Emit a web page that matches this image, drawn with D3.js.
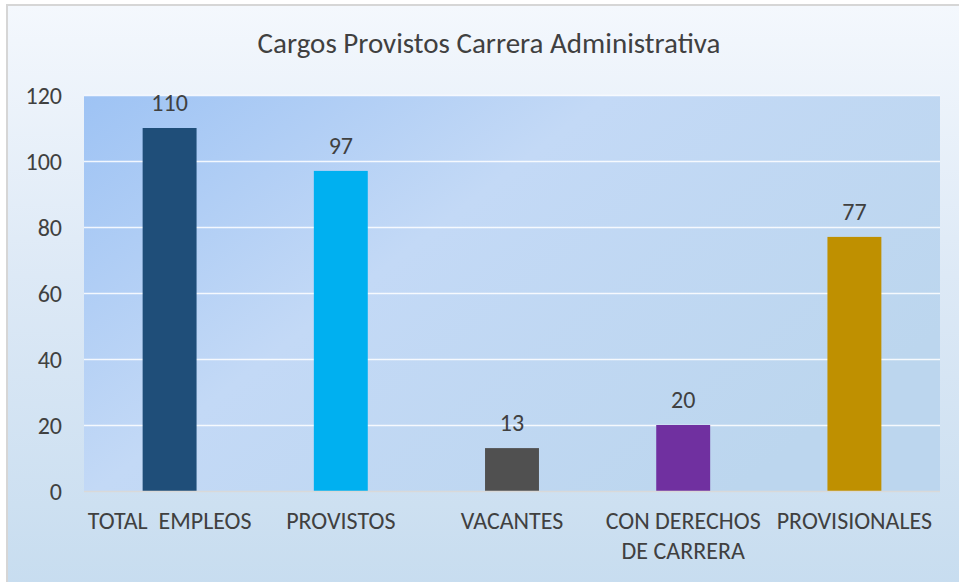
<!DOCTYPE html>
<html><head><meta charset="utf-8">
<script src="https://cdn.jsdelivr.net/npm/d3@7"></script>
<style>body{margin:0;background:#fff}svg{display:block}</style>
</head><body><svg id="c" width="959" height="582"></svg>
<script>
const categories = ["TOTAL  EMPLEOS", "PROVISTOS", "VACANTES", "CON DERECHOS\nDE CARRERA", "PROVISIONALES"];
const values = [110, 97, 13, 20, 77];
const colors = ["#1F4E79", "#00B0F0", "#505050", "#7030A0", "#BF9000"];
const yTicks = [0, 20, 40, 60, 80, 100, 120];
const title = "Cargos Provistos Carrera Administrativa";

const svg = d3.select("#c");
const defs = svg.append("defs");
const og = defs.append("linearGradient").attr("id","outer").attr("x1",0).attr("y1",0).attr("x2",0).attr("y2",1);
og.append("stop").attr("offset","0%").attr("stop-color","#f4f8fd");
og.append("stop").attr("offset","45%").attr("stop-color","#dde9f6");
og.append("stop").attr("offset","100%").attr("stop-color","#c6dcef");
const pg = defs.append("linearGradient").attr("id","plot").attr("x1",0).attr("y1",0).attr("x2",1).attr("y2",0.6);
pg.append("stop").attr("offset","0%").attr("stop-color","#9ec3f4");
pg.append("stop").attr("offset","45%").attr("stop-color","#c3d9f6");
pg.append("stop").attr("offset","100%").attr("stop-color","#bcd6ee");

svg.append("rect").attr("x",7).attr("y",5).attr("width",980).attr("height",600)
  .attr("fill","url(#outer)").attr("stroke","#d6d6d6").attr("stroke-width",2);

const m = {left:84, right:940, top:95, bottom:491};
const x = d3.scaleBand().domain(categories).range([m.left, m.right]).padding(0);
const y = d3.scaleLinear().domain([0,120]).range([m.bottom, m.top]);

svg.append("rect").attr("x",m.left).attr("y",m.top).attr("width",m.right-m.left).attr("height",m.bottom-m.top)
  .attr("fill","url(#plot)");

const font = "Carlito, Calibri, 'Open Sans', sans-serif";

svg.append("g").selectAll("line").data(yTicks.filter(d=>d>0)).join("line")
  .attr("x1",m.left).attr("x2",m.right).attr("y1",d=>Math.round(y(d))+0.5).attr("y2",d=>Math.round(y(d))+0.5)
  .attr("stroke","#ffffff").attr("stroke-opacity",0.85).attr("stroke-width",1.5);

const bw = x.bandwidth()*0.315;
svg.append("g").selectAll("rect").data(values).join("rect")
  .attr("x",(d,i)=>x(categories[i])+(x.bandwidth()-bw)/2)
  .attr("y",d=>y(d)).attr("width",bw).attr("height",d=>y(0)-y(d))
  .attr("fill",(d,i)=>colors[i]);

svg.append("line").attr("x1",m.left).attr("x2",m.right).attr("y1",y(0)+0.5).attr("y2",y(0)+0.5)
  .attr("stroke","#d9d9d9").attr("stroke-width",1.5);

// y axis
const yAxis = d3.axisLeft(y).tickValues(yTicks).tickSize(0).tickPadding(0);
const ya = svg.append("g").attr("transform",`translate(62,0)`).call(yAxis);
ya.select(".domain").remove();
ya.selectAll("text").attr("font-family",font).attr("font-size",24).attr("fill","#404040").attr("dy","0.34em");

// x labels
const xl = svg.append("g").selectAll("text").data(categories).join("text")
  .attr("x",d=>x(d)+x.bandwidth()/2).attr("y",529)
  .attr("text-anchor","middle").attr("font-family",font).attr("font-size",24).attr("fill","#404040");
xl.each(function(d){
  const t = d3.select(this);
  d.split("\n").forEach((s,i)=>{
    t.append("tspan").attr("x",x(d)+x.bandwidth()/2).attr("dy",i?30:0).attr("xml:space","preserve").text(s);
  });
});

// data labels
svg.append("g").selectAll("text").data(values).join("text")
  .attr("x",(d,i)=>x(categories[i])+x.bandwidth()/2).attr("y",d=>y(d)-17)
  .attr("text-anchor","middle").attr("font-family",font).attr("font-size",24).attr("fill","#404040")
  .text(d=>d);

svg.append("text").attr("x",489).attr("y",53).attr("text-anchor","middle")
  .attr("font-family",font).attr("font-size",29).attr("fill","#404040").text(title);
</script></body></html>
